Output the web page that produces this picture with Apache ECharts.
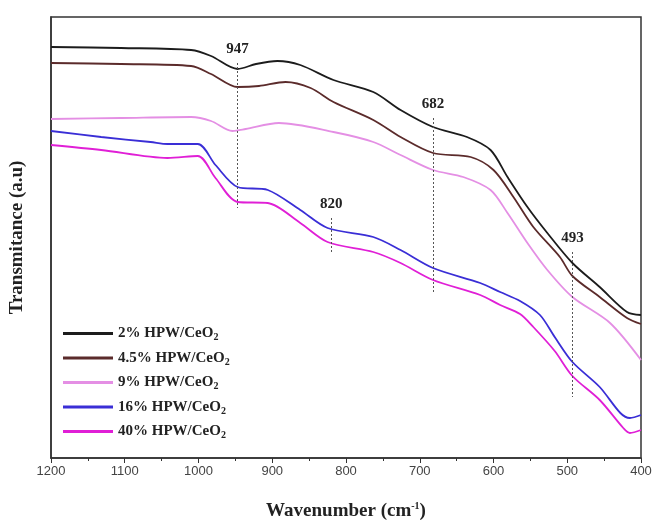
<!DOCTYPE html>
<html><head><meta charset="utf-8">
<script src="https://cdn.jsdelivr.net/npm/echarts@6/dist/echarts.min.js"></script>
<style>html,body{margin:0;padding:0;background:#fff}#c{width:657px;height:527px}</style>
</head><body><div id="c"></div>
<script>
// Wavenumber (cm-1) and transmittance (a.u.)
const s2 = [[1200,411],[1105,410],[1010,408],[983,402],[947,389],[922,394],[893,397],[862,393],[817,378],[763,366],[726,348],[682,331],[636,321],[604,308],[581,281],[554,251],[527,225],[493,195],[456,171],[419,146],[400,143]];
const s45 = [[1200,395],[1105,394],[1010,392],[983,384],[947,371],[918,372],[882,376],[848,370],[817,356],[763,338],[726,321],[682,305],[631,301],[600,288],[573,261],[546,231],[510,201],[493,182],[456,161],[419,140],[400,134]];
const s9 = [[1200,339],[1105,340],[1010,341],[983,337],[954,327],[936,329],[891,335],[817,326],[763,316],[726,303],[682,288],[641,281],[604,268],[581,245],[554,215],[527,188],[493,161],[442,135],[400,98]];
const s16 = [[1200,327],[1132,321],[1065,316],[1042,314],[1001,314],[977,293],[947,271],[906,268],[862,248],[825,230],[763,221],[726,208],[682,190],[618,175],[591,166],[564,157],[537,143],[517,121],[493,96],[456,71],[428,45],[415,40],[400,43]];
const s40 = [[1200,313],[1132,308],[1042,300],[1001,302],[977,280],[947,256],[906,255],[862,235],[825,216],[763,206],[726,195],[682,178],[618,163],[591,153],[564,144],[546,131],[517,107],[493,82],[456,58],[424,30],[415,25],[400,28]];
const seriesNames = ['2% HPW/CeO','4.5% HPW/CeO','9% HPW/CeO','16% HPW/CeO','40% HPW/CeO'];
const seriesColors = ['#1c1c1c','#5b2b2b','#e48fe4','#3a2ed6','#e01fd6'];
const peaks = [947, 820, 682, 493];
const peakTop = [395, 240, 340, 206];
const peakBottom = [250, 205, 166, 61];
const xTicks = [1200,1100,1000,900,800,700,600,500,400];

const allData = [s2, s45, s9, s16, s40];
const serif = '"Liberation Serif","Times New Roman",serif';
const chart = echarts.init(document.getElementById('c'));
const series = allData.map((d, i) => ({
  name: seriesNames[i], type: 'line', data: d, smooth: 0.3, symbol: 'none',
  lineStyle: {color: seriesColors[i], width: 1.8}, itemStyle: {color: seriesColors[i]}
}));
series[0].markLine = {
  silent: true, symbol: ['none','none'],
  lineStyle: {type: [2,2], color: '#555', width: 1},
  label: {show: true, position: 'start', distance: 6, fontFamily: serif, fontWeight: 'bold', fontSize: 15, color: '#222', formatter: p => p.data.lbl},
  data: peaks.map((p, i) => [{coord: [p, peakTop[i]], lbl: String(p)}, {coord: [p, peakBottom[i]]}])
};
chart.setOption({
  animation: false,
  grid: {left: 50, right: 16, top: 17, bottom: 69, show: true, borderColor: '#333', borderWidth: 1.5},
  legend: {
    orient: 'vertical', left: 58, top: 321, itemGap: 8, itemWidth: 50, itemHeight: 3,
    icon: 'rect', selectedMode: false,
    data: seriesNames,
    formatter: n => '{a|' + n + '}{s|2}',
    textStyle: {rich: {
      a: {fontFamily: serif, fontWeight: 'bold', fontSize: 15, color: '#222'},
      s: {fontFamily: serif, fontWeight: 'bold', fontSize: 10, color: '#222', verticalAlign: 'bottom', padding: [8,0,0,0]}
    }}
  },
  xAxis: {
    type: 'value', min: 400, max: 1200, interval: 100, inverse: true,
    axisLine: {show: true, lineStyle: {color: '#333', width: 1.5}},
    axisTick: {show: true, length: 5, lineStyle: {color: '#333'}},
    minorTick: {show: true, splitNumber: 2, length: 3, lineStyle: {color: '#333'}},
    splitLine: {show: false},
    axisLabel: {color: '#444', fontSize: 13, fontFamily: 'Liberation Sans, Arial, sans-serif', margin: 7,
      formatter: v => xTicks.indexOf(v) >= 0 ? String(v) : ''},
    name: '{a|Wavenumber (cm}{s|-1}{a|)}', nameLocation: 'middle', nameGap: 43,
    nameTextStyle: {rich: {
      a: {fontFamily: serif, fontWeight: 'bold', fontSize: 19, color: '#222'},
      s: {fontFamily: serif, fontWeight: 'bold', fontSize: 10, color: '#222', verticalAlign: 'top', padding: [0,0,10,0]}
    }}
  },
  yAxis: {
    type: 'value', min: 0, max: 441,
    axisLine: {show: true, lineStyle: {color: '#333', width: 1.5}},
    axisTick: {show: false}, axisLabel: {show: false}, splitLine: {show: false},
    name: 'Transmitance (a.u)', nameLocation: 'middle', nameGap: 24,
    nameTextStyle: {fontFamily: serif, fontWeight: 'bold', fontSize: 19, color: '#222'}
  },
  series: series
});
</script></body></html>
